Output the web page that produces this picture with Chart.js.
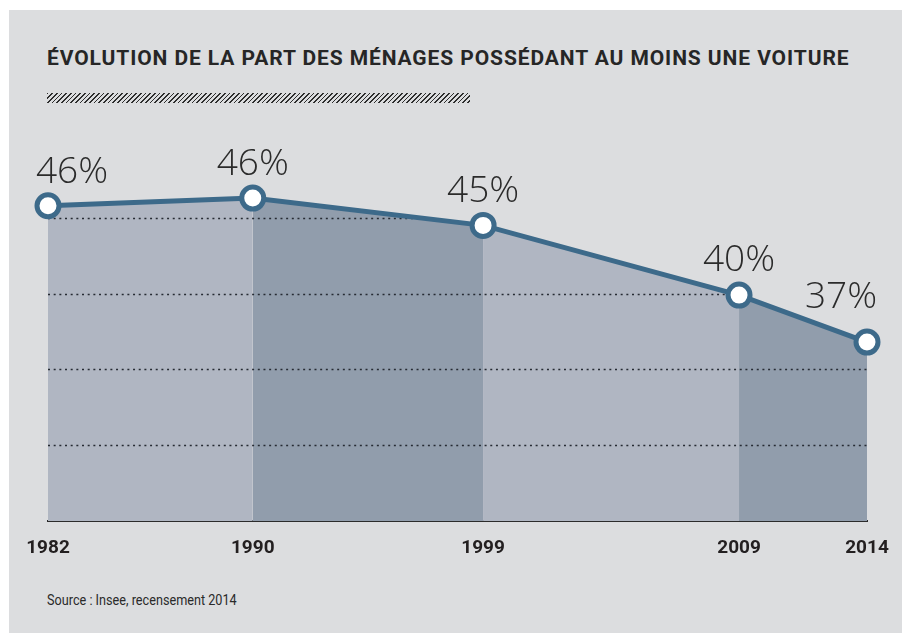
<!DOCTYPE html>
<html><head><meta charset="utf-8">
<script src="https://cdn.jsdelivr.net/npm/chart.js@4.4.1/dist/chart.umd.min.js"></script>
<style>
html,body{margin:0;padding:0;background:#fff;}
body{width:907px;height:633px;position:relative;overflow:hidden;font-family:Roboto,sans-serif;}
#panel{position:absolute;left:9px;top:10px;width:893px;height:623px;background:#dcdddf;}
#title{position:absolute;left:47px;top:48px;font:700 21px/21px Roboto,sans-serif;color:#262626;white-space:nowrap;transform-origin:0 0;}
#hatch{position:absolute;left:47px;top:93px;width:423px;height:10px;background:repeating-linear-gradient(135deg,#2e2e2e 0 1.3px,transparent 1.3px 3.3px);}
#source{position:absolute;left:47px;top:593px;font:400 14px/14px Roboto,sans-serif;color:#2a2a2a;white-space:nowrap;transform-origin:0 0;}
#chart{position:absolute;left:0;top:0;}
</style></head>
<body>
<div id="panel"></div>
<div id="title">ÉVOLUTION DE LA PART DES MÉNAGES POSSÉDANT AU MOINS UNE VOITURE</div>
<div id="hatch"></div>
<div id="source">Source : Insee, recensement 2014</div>
<canvas id="chart" width="907" height="633"></canvas>
<script>
// ---- data ----
const YEARS = [1982, 1990, 1999, 2009, 2014];
const SHARE = [45.8, 46.3, 44.5, 39.9, 36.8];
const SHARE_LABELS = ['46%', '46%', '45%', '40%', '37%'];
const GRID_VALUES = [30, 35, 40, 45];
const Y_MIN = 25, Y_MAX = 50;

// ---- fit text widths ----
function fitWidth(el, target){
  const w = el.scrollWidth;
  const n = el.textContent.length;
  if (w < target) { el.style.letterSpacing = ((target - w) / (n - 1)) + 'px'; }
  else { el.style.transform = 'scaleX(' + (target / w) + ')'; }
}
fitWidth(document.getElementById('title'), 802);
fitWidth(document.getElementById('source'), 190);

const LINE = '#3d6a8a', LIGHT = '#b0b6c2', DARK = '#919dac';

const mainData = YEARS.map((x, i) => ({x, y: SHARE[i]}));
const datasets = [{
  data: mainData,
  borderColor: LINE, borderWidth: 5,
  pointRadius: 11, pointBorderWidth: 5, pointBackgroundColor: '#fff', pointBorderColor: LINE,
  pointHoverRadius: 11, tension: 0, fill: false, clip: false
}];
for (let i = 0; i < YEARS.length - 1; i++) {
  datasets.push({
    data: [mainData[i], mainData[i + 1]],
    backgroundColor: i % 2 === 0 ? LIGHT : DARK,
    borderColor: 'rgba(0,0,0,0)', borderWidth: 0, pointRadius: 0,
    tension: 0, fill: 'start'
  });
}

const overlay = {
  id: 'overlay',
  beforeDatasetDraw(chart, args) {
    if (args.index !== 0) return;
    const ctx = chart.ctx, xs = chart.scales.x, ys = chart.scales.y;
    const pts = chart.getDatasetMeta(0).data;
    const base = ys.getPixelForValue(Y_MIN);
    ctx.save();
    ctx.beginPath();
    ctx.moveTo(pts[0].x, base);
    pts.forEach(p => ctx.lineTo(p.x, p.y));
    ctx.lineTo(pts[pts.length - 1].x, base);
    ctx.closePath();
    ctx.clip();
    ctx.setLineDash([2, 3.67]);
    ctx.strokeStyle = '#262b33';
    ctx.lineWidth = 1.4;
    GRID_VALUES.forEach(v => {
      const y = Math.round(ys.getPixelForValue(v)) + 0.5;
      ctx.beginPath(); ctx.moveTo(xs.left, y); ctx.lineTo(xs.right, y); ctx.stroke();
    });
    ctx.restore();
  },
  afterDatasetsDraw(chart, args, opts) {
    const ctx = chart.ctx;
    const pts = chart.getDatasetMeta(0).data;
    ctx.save();
    ctx.font = '300 37px "Open Sans"';
    ctx.fillStyle = '#2b2b2b';
    ctx.textAlign = 'center';
    ctx.textBaseline = 'alphabetic';
    pts.forEach((p, i) => {
      const t = SHARE_LABELS[i];
      const w = ctx.measureText(t).width;
      let cx = Math.max(opts.minX + w / 2, Math.min(opts.maxX - w / 2, p.x));
      ctx.fillText(t, cx, p.y - opts.lift[i]);
    });
    ctx.restore();
  }
};

new Chart(document.getElementById('chart'), {
  type: 'line',
  data: { datasets },
  options: {
    responsive: false, animation: false, devicePixelRatio: 1,
    layout: { padding: { left: 48, right: 40, top: 142, bottom: 57.2 } },
    plugins: {
      legend: { display: false }, tooltip: { enabled: false },
      overlay: { minX: 36, maxX: 877, lift: [23, 23, 23, 24, 34] }
    },
    scales: {
      x: {
        type: 'linear', min: YEARS[0], max: YEARS[YEARS.length - 1], z: 1,
        afterBuildTicks: s => { s.ticks = YEARS.map(v => ({value: v})); },
        grid: { display: false, drawTicks: false },
        border: { display: true, color: '#2b2b2b', width: 2 },
        ticks: { padding: 16, color: '#231f20', font: { family: 'Roboto', weight: 'bold', size: 19 },
                 callback: v => String(v), maxRotation: 0, autoSkip: false }
      },
      y: { display: false, min: Y_MIN, max: Y_MAX }
    }
  },
  plugins: [overlay]
});
</script>
</body></html>
